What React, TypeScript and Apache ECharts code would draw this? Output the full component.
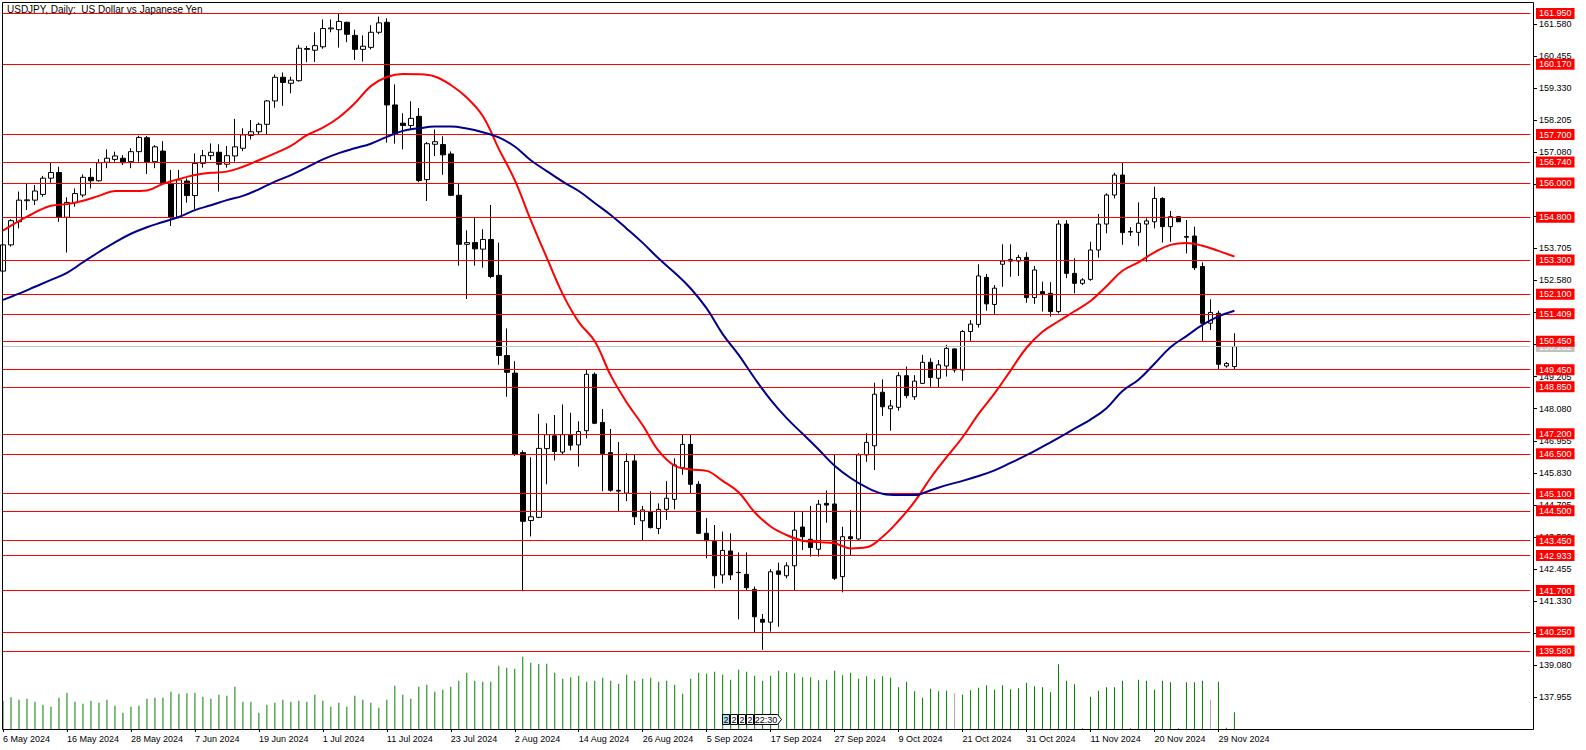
import React, { useEffect, useRef } from "react";
import * as echarts from "echarts";

const FONT = "'Liberation Sans', Arial, sans-serif";

const tickLabels = ["6 May 2024", "16 May 2024", "28 May 2024", "7 Jun 2024", "19 Jun 2024", "1 Jul 2024", "11 Jul 2024", "23 Jul 2024", "2 Aug 2024", "14 Aug 2024", "26 Aug 2024", "5 Sep 2024", "17 Sep 2024", "27 Sep 2024", "9 Oct 2024", "21 Oct 2024", "31 Oct 2024", "11 Nov 2024", "20 Nov 2024", "29 Nov 2024"];

const opens = [152.91,153.83,154.64,155.38,155.40,155.60,156.17,156.37,154.80,155.31,
155.58,156.20,156.08,156.73,156.83,156.87,156.75,157.10,157.59,156.75,
157.12,155.99,154.80,156.07,155.56,156.69,156.96,157.08,156.66,156.95,
157.22,157.67,157.80,158.06,158.88,159.71,159.50,159.59,160.72,160.66,
160.78,161.41,161.38,161.64,161.18,160.69,160.76,161.29,161.64,158.74,
158.10,158.02,158.34,156.12,157.36,157.35,157.02,155.57,153.85,153.91,
153.68,154.02,152.76,149.95,149.33,146.54,144.16,144.27,146.68,147.13,
146.56,147.17,146.81,147.31,149.29,147.60,146.54,145.22,145.12,146.25,
144.15,144.47,143.88,144.55,144.90,146.01,146.83,145.43,143.71,143.42,
142.25,143.09,142.34,142.27,141.74,140.69,140.59,142.39,142.22,142.57,
143.93,143.50,143.15,144.76,144.74,142.19,143.59,143.51,146.46,146.78,
148.66,148.08,148.13,149.24,148.50,148.97,149.71,149.15,149.58,150.18,
149.44,150.79,151.04,152.69,151.74,153.15,153.26,153.26,153.39,151.98,
152.19,152.13,151.49,154.56,152.83,152.48,152.62,153.65,154.56,155.58,
156.28,154.28,154.27,154.56,154.64,155.46,154.47,154.82,154.12,154.14,
153.07,151.08,151.43,149.58,149.56];

const highs = [153.95,154.73,155.70,155.97,155.93,156.25,156.71,156.57,155.50,155.81,
156.30,156.52,156.84,157.18,157.10,156.98,157.22,157.66,157.65,157.33,
157.47,156.46,156.46,156.16,157.04,157.16,157.39,157.36,157.30,158.25,
157.92,158.21,158.12,158.91,159.81,159.88,159.73,160.84,160.81,161.29,
161.74,161.74,161.94,161.66,161.38,161.18,161.54,161.84,161.78,159.46,
158.45,158.87,158.63,157.44,157.88,157.64,157.11,156.00,154.34,154.77,
154.38,155.23,153.91,150.90,149.75,146.62,146.38,147.90,147.57,147.86,
148.23,147.94,147.64,149.45,149.35,148.07,147.37,146.91,146.52,146.49,
144.67,145.19,144.76,145.54,146.34,147.16,147.16,145.54,144.24,144.00,
143.77,143.71,143.04,143.04,141.84,140.88,142.45,142.68,142.69,144.47,
144.47,144.67,144.88,145.21,146.48,143.94,144.53,146.52,147.22,148.99,
149.11,148.39,149.36,149.56,149.26,149.97,149.85,149.79,150.32,150.20,
150.84,151.19,153.15,152.81,152.42,153.85,153.85,153.48,153.57,153.09,
152.54,152.52,154.70,154.70,153.36,152.66,153.94,154.91,155.64,156.36,
156.73,154.45,155.32,154.76,155.87,155.50,155.02,154.84,154.70,154.47,
153.22,151.92,151.52,149.72,150.73];

const lows = [152.78,153.77,154.41,155.05,155.23,155.52,156.01,154.64,153.56,155.17,
155.50,155.81,156.05,156.52,156.75,156.63,156.52,156.75,156.32,156.52,
155.93,154.49,154.76,155.31,155.09,156.54,156.81,155.70,156.54,156.75,
157.12,157.53,157.72,157.72,158.64,158.71,159.15,159.56,160.24,160.25,
160.71,161.29,160.75,160.94,160.32,160.26,160.69,161.22,157.42,157.38,
157.18,157.88,156.03,155.37,156.95,156.29,155.54,153.10,151.93,153.10,
153.03,152.66,149.62,148.50,146.42,141.68,143.60,144.24,145.43,146.27,
146.49,146.62,146.05,147.04,147.54,145.19,145.17,144.46,144.84,144.00,
143.45,143.88,143.68,144.18,144.55,145.76,145.11,143.68,142.83,141.78,
141.95,142.07,140.69,141.72,140.23,139.62,140.26,140.43,142.13,141.72,
143.12,142.89,142.89,144.08,142.07,141.64,142.95,143.45,146.22,145.93,
147.83,147.31,148.01,148.45,148.39,148.95,148.85,148.83,149.21,149.35,
149.06,150.46,150.93,151.52,151.41,152.36,152.71,152.74,151.80,151.76,
151.49,151.31,151.43,152.66,152.13,152.42,152.57,153.38,154.24,155.46,
153.83,154.14,153.80,153.24,154.41,153.91,153.94,154.64,153.53,152.95,
150.46,150.84,149.44,149.52,149.44];

const closes = [153.83,154.68,155.40,155.41,155.72,156.17,156.37,154.80,155.32,155.63,
156.20,156.08,156.71,156.87,156.95,156.71,157.10,157.60,156.73,157.27,
155.99,154.80,156.11,155.56,156.69,156.96,157.08,156.66,156.96,157.27,
157.69,157.80,158.06,158.88,159.71,159.53,159.61,160.73,160.69,160.82,
161.42,161.44,161.67,161.22,160.69,160.80,161.29,161.62,158.74,157.72,
158.02,158.27,156.09,157.38,157.45,156.99,155.57,153.85,153.91,153.69,
154.02,152.72,149.95,149.36,146.49,144.13,144.29,146.69,147.17,146.58,
147.17,146.80,147.28,149.29,147.57,146.51,145.22,145.19,146.23,144.29,
144.53,143.91,144.55,144.94,146.11,146.83,145.43,143.71,143.45,142.22,
143.11,142.25,142.33,141.80,140.78,140.59,142.36,142.27,142.57,143.82,
143.59,143.21,144.73,144.70,142.13,143.59,143.52,146.46,146.90,148.59,
148.15,148.18,149.24,148.54,149.05,149.71,149.18,149.62,150.20,149.44,
150.79,151.05,152.74,151.76,152.31,153.26,153.32,153.39,151.98,152.95,
152.11,151.49,154.56,152.83,152.48,152.60,153.65,154.56,155.58,156.28,
154.26,154.30,154.59,154.67,155.46,154.47,154.82,154.64,154.10,153.03,
151.08,151.46,149.64,149.67,150.26];

const volumes = [85,95,88,91,82,73,67,94,109,82,
76,85,79,88,70,49,67,70,91,94,
94,112,106,107,109,97,91,103,100,127,
82,82,49,73,79,88,82,85,82,103,
85,67,79,67,100,88,79,64,88,130,
103,91,127,133,112,118,127,145,169,145,
142,142,190,184,181,217,199,195,196,169,
151,155,160,142,145,154,145,136,163,145,
151,154,142,145,133,106,151,169,166,172,
163,148,178,172,160,145,160,175,170,167,
155,155,146,148,175,161,169,151,158,149,
158,154,125,142,113,94,121,113,115,107,
103,116,124,131,118,131,119,122,139,128,
125,110,194,145,134,2,97,115,125,125,
145,2,148,145,118,145,140,2,140,140,
145,88,142,4,50];

const grayVolumeBars = [119, 151];

const redMA = [[0,154.33],[3,154.82],[6,155.20],[8,155.26],[10,155.38],[12,155.55],[14,155.72],[16,155.72],[18,155.74],[20,155.97],[22,156.14],[24,156.28],[26,156.36],[28,156.40],[30,156.57],[32,156.80],[34,157.04],[36,157.30],[38,157.68],[40,157.94],[42,158.30],[44,158.80],[46,159.40],[48,159.72],[50,159.83],[52,159.82],[54,159.74],[56,159.44],[58,159.00],[60,158.35],[62,157.20],[64,156.10],[66,154.70],[68,153.38],[70,152.10],[72,151.12],[74,150.45],[76,149.25],[78,148.30],[80,147.50],[82,146.60],[84,146.08],[86,145.95],[88,145.90],[90,145.55],[92,145.15],[94,144.45],[96,143.95],[98,143.65],[100,143.45],[102,143.40],[104,143.36],[106,143.18],[108,143.22],[110,143.59],[112,144.15],[114,144.82],[116,145.65],[118,146.38],[120,147.08],[122,147.90],[124,148.62],[126,149.42],[128,150.22],[130,150.78],[132,151.15],[134,151.50],[136,151.86],[138,152.38],[140,152.92],[142,153.22],[144,153.57],[146,153.83],[148,153.90],[150,153.80],[152,153.62],[154,153.42]];

const blueMA = [[0,151.90],[2,152.12],[4,152.36],[6,152.60],[8,152.85],[10,153.22],[12,153.58],[14,153.92],[16,154.22],[18,154.45],[20,154.63],[22,154.81],[24,155.05],[26,155.22],[28,155.40],[30,155.55],[32,155.78],[34,156.05],[36,156.28],[38,156.55],[40,156.83],[42,157.05],[44,157.22],[46,157.38],[48,157.62],[50,157.83],[52,157.92],[54,157.98],[56,157.98],[58,157.91],[60,157.78],[62,157.60],[64,157.28],[66,156.80],[68,156.42],[70,156.05],[72,155.72],[74,155.30],[76,154.88],[78,154.40],[80,153.90],[82,153.35],[84,152.85],[86,152.30],[88,151.60],[90,150.70],[92,149.97],[94,149.15],[96,148.39],[98,147.75],[100,147.20],[102,146.65],[104,146.08],[106,145.65],[108,145.32],[110,145.10],[112,145.05],[114,145.05],[116,145.22],[118,145.40],[120,145.55],[122,145.72],[124,145.92],[126,146.18],[128,146.45],[130,146.75],[132,147.06],[134,147.38],[136,147.70],[138,148.10],[140,148.70],[142,149.10],[144,149.66],[146,150.24],[148,150.63],[150,151.02],[152,151.32],[154,151.52]];

const levels = [161.95, 160.17, 157.70, 156.74, 156.00, 154.80, 153.30, 152.10, 151.409, 150.45, 149.45, 148.85, 147.20, 146.50, 145.10, 144.50, 143.45, 142.933, 141.70, 140.25, 139.58];
const currentPrice = 150.262;

const priceTicks = [137.955, 139.08, 140.205, 141.33, 142.455, 143.58, 144.705, 145.83, 146.955, 148.08, 149.205, 150.33, 151.455, 152.58, 153.705, 154.83, 155.955, 157.08, 158.205, 159.33, 160.455, 161.58];
const priceLabels = [137.955, 139.08, 141.33, 142.455, 143.58, 144.705, 145.83, 146.955, 148.08, 149.205, 152.58, 153.705, 157.08, 158.205, 159.33, 160.455, 161.58];

const title = "USDJPY, Daily:  US Dollar vs Japanese Yen";
const eventMarks = ["2", "2", "2", "2"];
const eventTime = "22:30";

const N_SLOTS = 192;

export default function App() {
  const ref = useRef<HTMLDivElement>(null);
  useEffect(() => {
    document.body.style.margin = "0";
    if (!ref.current) return;
    const chart = echarts.init(ref.current, undefined, { renderer: "svg" });
    const cats = Array.from({ length: N_SLOTS }, (_, i) => String(i));
    const candleData = opens.map((o, i) => [o, closes[i], lows[i], highs[i]]);
    const volData = volumes.map((v, i) => ({
      value: v,
      itemStyle: { color: grayVolumeBars.includes(i) ? "#A8A8A8" : "#008000" },
    }));
    const showTick = (i: number) => i % 8 === 0 && i / 8 < tickLabels.length;

    const levelLabel = (bg: string) => ({
      show: true,
      position: "end",
      distance: 5.7,
      color: "#FFFFFF",
      backgroundColor: bg,
      padding: [1, 3, 0, 3],
      fontSize: 9,
      lineHeight: 10,
      fontFamily: FONT,
    });

    const markData: any[] = [
      {
        yAxis: currentPrice,
        lineStyle: { color: "#C0C0C0", width: 1, type: "solid" },
        label: { ...levelLabel("#C0C0C0"), formatter: currentPrice.toFixed(3) },
      },
      ...levels.map((v) => ({
        yAxis: v,
        lineStyle: { color: "#FF0000", width: 1, type: "solid" },
        label: { ...levelLabel("#FF0000"), formatter: v.toFixed(3) },
      })),
    ];

    const evGraphics: any[] = [];
    eventMarks.forEach((t, k) => {
      const x = 722 + k * 8;
      evGraphics.push({
        type: "rect",
        shape: { x: x + 0.5, y: 714.5, width: 7, height: 10 },
        style: { fill: k === 0 ? "#A6E3F2" : "#FFFFFF", stroke: "#000", lineWidth: 1 },
        z: 20,
        silent: true,
      });
      evGraphics.push({
        type: "text",
        x: x + 4,
        y: 720,
        style: { text: t, fontSize: 9, fontFamily: FONT, fill: "#000", align: "center", verticalAlign: "middle" },
        z: 21,
        silent: true,
      });
    });
    evGraphics.push({
      type: "polygon",
      shape: { points: [[754.5, 714.5], [777.5, 714.5], [781.5, 719.5], [777.5, 724.5], [754.5, 724.5]] },
      style: { fill: "#FFFFFF", stroke: "#000", lineWidth: 1 },
      z: 20,
      silent: true,
    });
    evGraphics.push({
      type: "text",
      x: 766,
      y: 720,
      style: { text: eventTime, fontSize: 9, fontFamily: FONT, fill: "#000", align: "center", verticalAlign: "middle" },
      z: 21,
      silent: true,
    });

    chart.setOption({
      animation: false,
      backgroundColor: "#FFFFFF",
      textStyle: { fontFamily: FONT },
      grid: { left: 2.3, right: 55.7, top: 2, bottom: 21, containLabel: false },
      xAxis: {
        type: "category",
        data: cats,
        boundaryGap: false,
        axisLine: { show: false },
        axisTick: { show: true, interval: (i: number) => showTick(i), length: 3, lineStyle: { color: "#000" } },
        axisLabel: {
          interval: (i: number) => showTick(i),
          formatter: (v: string) => {
            const i = Number(v);
            return i % 8 === 0 && tickLabels[i / 8] ? tickLabels[i / 8] : "";
          },
          align: "left",
          margin: 5,
          fontSize: 9,
          color: "#000",
          fontFamily: FONT,
        },
        splitLine: { show: false },
      },
      yAxis: [
        {
          type: "value",
          position: "right",
          offset: 2.7,
          min: 136.843,
          max: 162.352,
          axisLine: { show: false },
          axisTick: { show: true, customValues: priceTicks, length: 4, lineStyle: { color: "#000" } },
          axisLabel: {
            customValues: priceLabels,
            formatter: (v: number) => v.toFixed(3),
            margin: 6,
            fontSize: 9,
            color: "#000",
            fontFamily: FONT,
          },
          splitLine: { show: false },
        },
        { type: "value", min: 0, max: 2181, show: false },
      ],
      series: [
        {
          type: "bar",
          yAxisIndex: 1,
          data: volData,
          barWidth: 1,
          silent: true,
          z: 1,
        },
        {
          type: "candlestick",
          data: candleData,
          barWidth: 5,
          silent: true,
          itemStyle: {
            color: "#FFFFFF",
            color0: "#000000",
            borderColor: "#000000",
            borderColor0: "#000000",
            borderWidth: 1,
          },
          z: 3,
        },
        {
          type: "line",
          data: redMA,
          smooth: 0.4,
          showSymbol: false,
          silent: true,
          lineStyle: { color: "#FF0000", width: 2 },
          z: 5,
        },
        {
          type: "line",
          data: blueMA,
          smooth: 0.4,
          showSymbol: false,
          silent: true,
          lineStyle: { color: "#00008B", width: 2 },
          z: 5,
        },
        {
          type: "line",
          data: [],
          clip: false,
          silent: true,
          z: 4,
          markLine: {
            silent: true,
            symbol: ["none", "none"],
            animation: false,
            data: markData,
          },
        },
      ],
      graphic: [
        {
          type: "rect",
          shape: { x: 2.5, y: 2.5, width: 1531, height: 727 },
          style: { fill: "none", stroke: "#000", lineWidth: 1 },
          z: 30,
          silent: true,
        },
        {
          type: "text",
          x: 7,
          y: 4,
          style: { text: title, fontSize: 10, fontFamily: FONT, fill: "#000" },
          z: 30,
          silent: true,
        },
        ...evGraphics,
      ],
    });
    return () => chart.dispose();
  }, []);
  return <div ref={ref} style={{ width: 1586, height: 750 }} />;
}
